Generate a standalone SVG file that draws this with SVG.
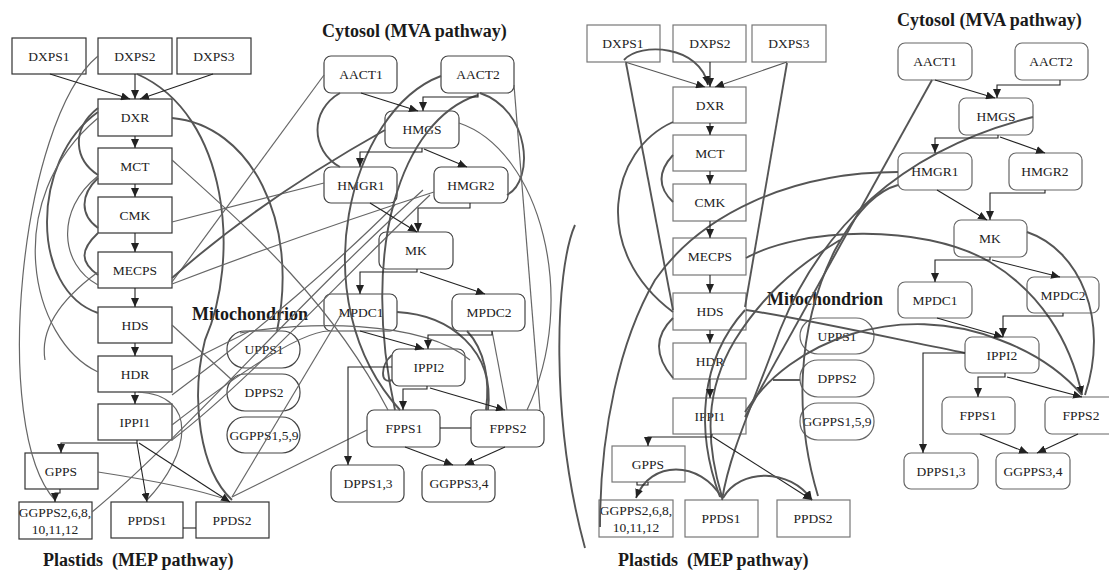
<svg xmlns="http://www.w3.org/2000/svg" width="1109" height="572" viewBox="0 0 1109 572">
<defs>
<marker id="ah" markerWidth="9" markerHeight="8" refX="9" refY="4" orient="auto" markerUnits="userSpaceOnUse"><path d="M0,0 L9,4 L0,8 Z" fill="#222"/></marker>
<style>
.box{fill:none;stroke:#333;stroke-width:1.2}
.rbx{fill:none;stroke:#444;stroke-width:1.2}
.lb{font-family:"Liberation Serif","Times New Roman",serif;font-size:13.5px;fill:#222;text-anchor:middle}
.tt{font-family:"Liberation Serif","Times New Roman",serif;font-weight:bold;font-size:18px;fill:#1a1a1a}
.ar{stroke:#222;stroke-width:1.1;fill:none;marker-end:url(#ah)}
.ln{stroke:#222;stroke-width:1.1;fill:none}
.g{stroke:#666;stroke-width:1.2;fill:none}
.gk{stroke:#555;stroke-width:1.9;fill:none}
.ga{stroke:#555;stroke-width:1.9;fill:none;marker-end:url(#ah)}
</style>
</defs>
<rect width="1109" height="572" fill="#fff"/>
<!-- titles -->
<text class="tt" x="322" y="37">Cytosol (MVA pathway)</text>
<text class="tt" x="192" y="320">Mitochondrion</text>
<text class="tt" x="43" y="566" font-family="Liberation Serif, serif" font-size="17.8" font-weight="bold" xml:space="preserve">Plastids  (MEP pathway)</text>
<text class="tt" x="897" y="26">Cytosol (MVA pathway)</text>
<text class="tt" x="767" y="305">Mitochondrion</text>
<text class="tt" x="618" y="566" font-family="Liberation Serif, serif" font-size="17.8" font-weight="bold" xml:space="preserve">Plastids  (MEP pathway)</text>

<!-- LEFT PANEL NODES -->
<g id="L-DXPS1"><rect class="box" x="12" y="38" width="74" height="36"/><text class="lb" x="49" y="61">DXPS1</text></g>
<g id="L-DXPS2"><rect class="box" x="98" y="38" width="74" height="36"/><text class="lb" x="135" y="61">DXPS2</text></g>
<g id="L-DXPS3"><rect class="box" x="177" y="38" width="74" height="36"/><text class="lb" x="214" y="61">DXPS3</text></g>
<g id="L-DXR"><rect class="box" x="98" y="99" width="74" height="37"/><text class="lb" x="135" y="122">DXR</text></g>
<g id="L-MCT"><rect class="box" x="98" y="148" width="74" height="36"/><text class="lb" x="135" y="171">MCT</text></g>
<g id="L-CMK"><rect class="box" x="98" y="197" width="74" height="36"/><text class="lb" x="135" y="220">CMK</text></g>
<g id="L-MECPS"><rect class="box" x="98" y="252" width="74" height="36"/><text class="lb" x="135" y="275">MECPS</text></g>
<g id="L-HDS"><rect class="box" x="98" y="307" width="74" height="36"/><text class="lb" x="135" y="330">HDS</text></g>
<g id="L-HDR"><rect class="box" x="98" y="356" width="74" height="36"/><text class="lb" x="135" y="379">HDR</text></g>
<g id="L-IPPI1"><rect class="box" x="98" y="404" width="74" height="36"/><text class="lb" x="135" y="427">IPPI1</text></g>
<g id="L-GPPS"><rect class="box" x="25" y="453" width="73" height="36"/><text class="lb" x="61" y="476">GPPS</text></g>
<g id="L-GGPPS2"><rect class="box" x="19" y="502" width="73" height="37"/><text class="lb" x="55" y="517">GGPPS2,6,8,</text><text class="lb" x="55" y="534">10,11,12</text></g>
<g id="L-PPDS1"><rect class="box" x="111" y="502" width="72" height="36"/><text class="lb" x="147" y="525">PPDS1</text></g>
<g id="L-PPDS2"><rect class="box" x="196" y="502" width="73" height="36"/><text class="lb" x="232" y="525">PPDS2</text></g>
<g id="L-AACT1"><rect class="rbx" x="324" y="56" width="73" height="37" rx="7"/><text class="lb" x="361" y="79">AACT1</text></g>
<g id="L-AACT2"><rect class="rbx" x="441" y="56" width="73" height="37" rx="7"/><text class="lb" x="478" y="79">AACT2</text></g>
<g id="L-HMGS"><rect class="rbx" x="385" y="111" width="74" height="37" rx="7"/><text class="lb" x="422" y="134">HMGS</text></g>
<g id="L-HMGR1"><rect class="rbx" x="324" y="167" width="73" height="36" rx="7"/><text class="lb" x="361" y="190">HMGR1</text></g>
<g id="L-HMGR2"><rect class="rbx" x="434" y="167" width="74" height="36" rx="7"/><text class="lb" x="471" y="190">HMGR2</text></g>
<g id="L-MK"><rect class="rbx" x="379" y="232" width="74" height="37" rx="7"/><text class="lb" x="416" y="255">MK</text></g>
<g id="L-MPDC1"><rect class="rbx" x="324" y="294" width="73" height="37" rx="7"/><text class="lb" x="361" y="317">MPDC1</text></g>
<g id="L-MPDC2"><rect class="rbx" x="452" y="294" width="73" height="37" rx="7"/><text class="lb" x="489" y="317">MPDC2</text></g>
<g id="L-IPPI2"><rect class="rbx" x="392" y="349" width="73" height="37" rx="7"/><text class="lb" x="429" y="372">IPPI2</text></g>
<g id="L-FPPS1"><rect class="rbx" x="367" y="410" width="73" height="37" rx="7"/><text class="lb" x="404" y="433">FPPS1</text></g>
<g id="L-FPPS2"><rect class="rbx" x="471" y="410" width="73" height="37" rx="7"/><text class="lb" x="508" y="433">FPPS2</text></g>
<g id="L-DPPS13"><rect class="rbx" x="331" y="465" width="73" height="37" rx="7"/><text class="lb" x="368" y="488">DPPS1,3</text></g>
<g id="L-GGPPS34"><rect class="rbx" x="422" y="465" width="73" height="37" rx="7"/><text class="lb" x="459" y="488">GGPPS3,4</text></g>
<g id="L-UPPS1"><rect class="rbx" x="227" y="331" width="73" height="37" rx="18"/><text class="lb" x="264" y="354">UPPS1</text></g>
<g id="L-DPPS2"><rect class="rbx" x="227" y="374" width="73" height="37" rx="18"/><text class="lb" x="264" y="397">DPPS2</text></g>
<g id="L-GGPPS159"><rect class="rbx" x="227" y="417" width="73" height="36" rx="18"/><text class="lb" x="264" y="440">GGPPS1,5,9</text></g>

<!-- RIGHT PANEL NODES -->
<g id="R-DXPS1"><rect class="box" x="587" y="25" width="73" height="37" style="stroke:#777"/><text class="lb" x="623" y="48">DXPS1</text></g>
<g id="R-DXPS2"><rect class="box" x="673" y="25" width="73" height="37" style="stroke:#777"/><text class="lb" x="710" y="48">DXPS2</text></g>
<g id="R-DXPS3"><rect class="box" x="752" y="25" width="74" height="37" style="stroke:#777"/><text class="lb" x="789" y="48">DXPS3</text></g>
<g id="R-DXR"><rect class="box" x="673" y="87" width="73" height="36" style="stroke:#777"/><text class="lb" x="710" y="110">DXR</text></g>
<g id="R-MCT"><rect class="box" x="673" y="135" width="73" height="36" style="stroke:#777"/><text class="lb" x="710" y="158">MCT</text></g>
<g id="R-CMK"><rect class="box" x="673" y="184" width="73" height="37" style="stroke:#777"/><text class="lb" x="710" y="207">CMK</text></g>
<g id="R-MECPS"><rect class="box" x="673" y="238" width="73" height="37" style="stroke:#777"/><text class="lb" x="710" y="261">MECPS</text></g>
<g id="R-HDS"><rect class="box" x="673" y="293" width="73" height="37" style="stroke:#777"/><text class="lb" x="710" y="316">HDS</text></g>
<g id="R-HDR"><rect class="box" x="673" y="343" width="73" height="36" style="stroke:#777"/><text class="lb" x="710" y="366">HDR</text></g>
<g id="R-IPPI1"><rect class="box" x="673" y="398" width="73" height="36" style="stroke:#777"/><text class="lb" x="710" y="421">IPPI1</text></g>
<g id="R-GPPS"><rect class="box" x="612" y="446" width="73" height="36" style="stroke:#777"/><text class="lb" x="648" y="469">GPPS</text></g>
<g id="R-GGPPS2"><rect class="box" x="599" y="500" width="74" height="37" style="stroke:#777"/><text class="lb" x="636" y="515">GGPPS2,6,8,</text><text class="lb" x="636" y="532">10,11,12</text></g>
<g id="R-PPDS1"><rect class="box" x="685" y="500" width="73" height="37" style="stroke:#777"/><text class="lb" x="721" y="523">PPDS1</text></g>
<g id="R-PPDS2"><rect class="box" x="777" y="500" width="73" height="37" style="stroke:#777"/><text class="lb" x="813" y="523">PPDS2</text></g>
<g id="R-AACT1"><rect class="rbx" x="898" y="43" width="74" height="37" rx="7" style="stroke:#666"/><text class="lb" x="935" y="66">AACT1</text></g>
<g id="R-AACT2"><rect class="rbx" x="1015" y="43" width="73" height="37" rx="7" style="stroke:#666"/><text class="lb" x="1051" y="66">AACT2</text></g>
<g id="R-HMGS"><rect class="rbx" x="959" y="98" width="74" height="37" rx="7" style="stroke:#666"/><text class="lb" x="996" y="121">HMGS</text></g>
<g id="R-HMGR1"><rect class="rbx" x="898" y="153" width="74" height="37" rx="7" style="stroke:#666"/><text class="lb" x="935" y="176">HMGR1</text></g>
<g id="R-HMGR2"><rect class="rbx" x="1009" y="153" width="73" height="37" rx="7" style="stroke:#666"/><text class="lb" x="1045" y="176">HMGR2</text></g>
<g id="R-MK"><rect class="rbx" x="954" y="220" width="73" height="37" rx="7" style="stroke:#666"/><text class="lb" x="990" y="243">MK</text></g>
<g id="R-MPDC1"><rect class="rbx" x="898" y="282" width="74" height="36" rx="7" style="stroke:#666"/><text class="lb" x="935" y="305">MPDC1</text></g>
<g id="R-MPDC2"><rect class="rbx" x="1027" y="277" width="72" height="36" rx="7" style="stroke:#666"/><text class="lb" x="1063" y="300">MPDC2</text></g>
<g id="R-IPPI2"><rect class="rbx" x="965" y="337" width="74" height="36" rx="7" style="stroke:#666"/><text class="lb" x="1002" y="360">IPPI2</text></g>
<g id="R-FPPS1"><rect class="rbx" x="942" y="397" width="73" height="37" rx="7" style="stroke:#666"/><text class="lb" x="978" y="420">FPPS1</text></g>
<g id="R-FPPS2"><rect class="rbx" x="1045" y="397" width="73" height="37" rx="7" style="stroke:#666"/><text class="lb" x="1081" y="420">FPPS2</text></g>
<g id="R-DPPS13"><rect class="rbx" x="904" y="453" width="74" height="36" rx="7" style="stroke:#666"/><text class="lb" x="941" y="476">DPPS1,3</text></g>
<g id="R-GGPPS34"><rect class="rbx" x="996" y="453" width="74" height="36" rx="7" style="stroke:#666"/><text class="lb" x="1033" y="476">GGPPS3,4</text></g>
<g id="R-UPPS1"><rect class="rbx" x="800" y="318" width="74" height="36" rx="18" style="stroke:#666"/><text class="lb" x="837" y="341">UPPS1</text></g>
<g id="R-DPPS2"><rect class="rbx" x="800" y="360" width="74" height="37" rx="18" style="stroke:#666"/><text class="lb" x="837" y="383">DPPS2</text></g>
<g id="R-GGPPS159"><rect class="rbx" x="800" y="403" width="74" height="37" rx="18" style="stroke:#666"/><text class="lb" x="837" y="426">GGPPS1,5,9</text></g>

<!-- CONNECTORS -->
<g id="connectors">
<!-- left gray -->
<path class="g" d="M98,56 C20,120 -10,430 55,500"/>
<path class="gk" d="M137,74 C230,115 240,260 205,340 C190,400 200,470 232,500"/>
<path class="gk" d="M172,118 C250,125 300,220 277,331"/>
<path class="g" d="M172,160 C250,230 330,300 388,410"/>
<path class="g" d="M172,222 L324,183"/>
<path class="g" d="M172,282 L324,75"/>
<path class="gk" d="M172,278 Q260,200 385,130"/>
<path class="g" d="M172,284 Q300,235 434,192"/>
<path class="g" d="M172,325 L232,380"/>
<path class="gk" d="M98,112 C30,160 30,290 98,313"/>
<path class="g" d="M98,118 C0,200 30,340 98,372"/>
<path class="gk" d="M98,108 C70,130 75,160 98,175"/>
<path class="gk" d="M98,178 C80,195 80,215 98,228"/>
<path class="gk" d="M98,233 C80,250 80,262 98,275"/>
<path class="g" d="M98,176 C55,210 60,265 98,285"/>
<path class="g" d="M98,272 C60,300 40,330 45,360"/>
<path class="g" d="M138,392 C200,395 190,455 147,500"/>
<path class="g" d="M98,472 C150,480 200,490 228,500"/>
<path class="g" d="M92,512 C180,440 300,300 423,190"/>
<path class="g" d="M172,440 C250,380 340,280 430,195"/>
<path class="g" d="M172,395 C260,330 340,260 395,205"/>
<path class="g" d="M172,425 C230,380 300,330 330,331"/>
<path class="g" d="M172,370 L250,331"/>
<path class="gk" d="M340,93 C310,110 310,150 340,167"/>
<path class="gk" d="M441,76 C350,110 300,300 400,410"/>
<path class="gk" d="M478,95 C400,120 360,250 395,410"/>
<path class="gk" d="M480,93 C530,110 535,180 507,195"/>
<path class="g" d="M459,123 C540,150 580,300 527,410"/>
<path class="g" d="M514,85 L540,410"/>
<path class="gk" d="M397,312 C450,315 495,350 488,410"/>
<path class="gk" d="M467,331 C485,350 490,380 486,410"/>
<path class="g" d="M492,331 L507,410"/>
<path class="g" d="M232,497 L367,430"/>
<path class="g" d="M232,497 L342,313"/>
<path class="g" d="M240,333 C300,322 420,318 470,360"/>
<path class="gk" d="M392,355 C380,365 380,385 392,380"/>
<!-- left arrows -->
<path class="ar" d="M50,74 L130,99"/>
<path class="ar" d="M135,74 L135,99"/>
<path class="ar" d="M213,74 L140,99"/>
<path class="ar" d="M135,136 L135,148"/>
<path class="ar" d="M135,184 L135,197"/>
<path class="ar" d="M135,233 L135,252"/>
<path class="ar" d="M135,288 L135,307"/>
<path class="ar" d="M135,343 L135,356"/>
<path class="ar" d="M135,392 L135,404"/>
<path class="ar" d="M137,440 L137,443 L61,443 L61,453"/>
<path class="ar" d="M137,443 L147,502"/>
<path class="ar" d="M139,443 L230,502"/>
<path class="ar" d="M60,489 L60,493 L55,493 L55,502"/>
<path class="ln" d="M183,528 L196,528"/>
<path class="ar" d="M361,93 L418,111"/>
<path class="ar" d="M478,93 L478,97 L423,97 L423,111"/>
<path class="ar" d="M422,148 L422,152 L360,152 L360,167"/>
<path class="ar" d="M424,149 L467,167"/>
<path class="ar" d="M370,203 L417,232"/>
<path class="ar" d="M470,203 L470,208 L418,208 L418,232"/>
<path class="ar" d="M417,269 L417,272 L360,272 L360,294"/>
<path class="ar" d="M420,272 L485,294"/>
<path class="ar" d="M360,331 L424,349"/>
<path class="ar" d="M492,331 L492,335 L428,335 L428,349"/>
<path class="ar" d="M427,386 L427,389 L403,389 L403,410"/>
<path class="ar" d="M430,388 L505,410"/>
<path class="ar" d="M392,367 L348,367 L348,465"/>
<path class="ln" d="M440,428 L471,428"/>
<path class="ar" d="M405,447 L453,465"/>
<path class="ar" d="M505,447 L465,465"/>

<!-- right gray -->
<path class="ga" d="M624,60 C640,42 700,45 708,85"/>
<path class="gk" d="M626,63 L673,310"/>
<path class="gk" d="M787,63 L745,307"/>
<path class="gk" d="M673,122 C610,150 590,250 673,312"/>
<path class="gk" d="M673,155 Q650,180 673,202"/>
<path class="gk" d="M673,318 Q645,345 673,378"/>
<path class="gk" d="M898,172 C790,172 700,215 655,280 C620,340 600,430 600,527"/>
<path class="ga" d="M746,258 C800,228 920,222 990,262 C1040,292 1070,340 1082,395"/>
<path class="gk" d="M1027,232 C1080,250 1110,320 1085,395"/>
<path class="gk" d="M1033,117 C900,150 820,230 780,330 C755,400 730,450 722,500"/>
<path class="gk" d="M932,80 L745,417"/>
<path class="gk" d="M745,412 C790,340 900,300 1000,340 C1040,355 1065,375 1082,395"/>
<path class="gk" d="M746,310 C800,318 900,340 965,353"/>
<path class="gk" d="M575,225 C555,270 550,420 585,548"/>
<path class="gk" d="M720,497 C695,430 700,360 745,310"/>
<path class="gk" d="M722,497 C705,440 705,390 735,340 C760,300 790,270 840,240"/>
<path class="gk" d="M818,496 C795,420 795,330 835,250 C860,205 880,190 898,185"/>
<path class="gk" d="M773,380 L800,380"/>
<!-- right arrows -->
<path class="ar" d="M625,62 L705,87" style="stroke:#555"/>
<path class="ar" d="M710,62 L710,87"/>
<path class="ar" d="M787,62 L715,87" style="stroke:#555"/>
<path class="ar" d="M710,123 L710,135"/>
<path class="ar" d="M710,171 L710,184"/>
<path class="ar" d="M710,221 L710,238"/>
<path class="ar" d="M710,275 L710,293"/>
<path class="ar" d="M710,330 L710,343"/>
<path class="ar" d="M710,379 L710,398"/>
<path class="ar" d="M712,434 L712,437 L648,437 L648,446"/>
<path class="ar" d="M713,437 L812,500"/>
<path class="ga" d="M722,498 C700,460 650,460 636,498"/>
<path class="ga" d="M723,498 C740,468 790,468 812,500"/>
<path class="ln" d="M637,482 L637,485 L648,485 L648,482"/>
<path class="ar" d="M935,80 L995,98"/>
<path class="ar" d="M1060,80 L1060,85 L997,85 L997,98"/>
<path class="ar" d="M998,135 L998,138 L935,138 L935,153"/>
<path class="ar" d="M1000,137 L1045,153"/>
<path class="ar" d="M937,190 L987,220"/>
<path class="ar" d="M1045,190 L1045,193 L990,193 L990,220"/>
<path class="ar" d="M990,257 L990,260 L935,260 L935,282"/>
<path class="ar" d="M992,260 L1060,277"/>
<path class="ar" d="M937,318 L1003,337"/>
<path class="ar" d="M1063,313 L1063,316 L1003,316 L1003,337"/>
<path class="ar" d="M1005,373 L1005,377 L978,377 L978,397"/>
<path class="ar" d="M1007,377 L1082,397"/>
<path class="ar" d="M965,353 L923,353 L923,453"/>
<path class="ar" d="M980,434 L1028,453"/>
<path class="ar" d="M1078,434 L1037,453"/>
</g>
</svg>
